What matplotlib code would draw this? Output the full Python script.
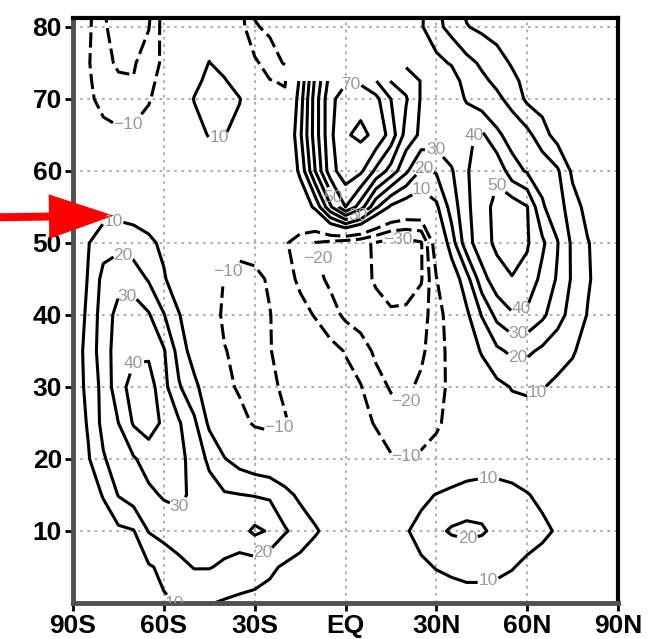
import numpy as np
import matplotlib
matplotlib.use("Agg")
import matplotlib.pyplot as plt
from matplotlib import font_manager

nan = np.nan

# grid: longitude columns and vertical levels
lons = [-90, -85, -80, -75, -70, -65, -60, -55, -50, -45, -40, -35, -30, -25, -20, -15, -10, -5, 0,
        5, 10, 15, 20, 25, 30, 35, 40, 45, 50, 55, 60, 65, 70, 75, 80, 85, 90]
heights = [0, 5, 10, 15, 20, 25, 30, 35, 40, 45, 50, 55, 60, 65, 70, 72.5, 75, 80, 85]

# field values, one row per height (west -> east)
z_00 = [2, 3, 4, 5, 6, 7, 9, 10.5, 11, 10.5, 9, 8, 7, 6, 5, 4, 3, 2, 1, 1, 1, 1, 2, 3, 4, 5, 6, 6, 6, 5, 4, 3, 2, 1, 1, 0, 0]
z_05 = [3, 4, 5, 6, 7.5, 9, 12, 17, 20.5, 20.5, 18.5, 16, 15, 12, 8.5, 6, 4, 3, 2, 2, 3, 4, 6, 8, 10.5, 12, 13, 13, 12, 10.5, 8, 6, 4, 3, 2, 1, 0]
z_10 = [3, 4.5, 6, 8, 9.5, 20.5, 24, 26, 27, 26, 25, 26, 32, 29, 21, 16, 11, 7, 4, 3, 4, 6, 9, 14, 18, 21, 22, 21, 18, 16, 14, 12, 9, 6, 4, 2, 1]
z_15 = [3, 6, 10.5, 20.5, 25, 28, 31, 32, 28, 24, 21, 20.3, 19.5, 18.5, 13, 8, 5, 3, 2, 1, 1, 2, 4, 7, 10.5, 13, 15, 16, 15, 13, 10.5, 8, 6, 4, 3, 2, 1]
z_20 = [4, 9, 19, 25, 29, 34, 36, 33, 26, 18, 10.5, 6, 3, 1, 0, -1, -2, -3, -4, -5, -7, -9, -9.5, -8, -5, -1, 2, 3, 4, 4, 4, 3, 2, 2, 1, 1, 0]
z_25 = [3, 11, 23, 30, 41, 45, 38, 31, 22, 8, 1, -6, -11.5, -13, -11, -6, -4, -5, -6, -8, -10.5, -15, -17, -16, -12, -6, 0, 3, 5, 6, 7, 6, 5, 3, 2, 1, 0]
z_30 = [3, 13, 23, 36, 44, 45, 33, 21, 13, 3, -7, -11.5, -13, -12.5, -8, -5, -4, -5, -7, -9.5, -16, -21, -22, -18, -13, -8, -2, 3, 7.5, 10.5, 11, 10.5, 8, 6, 4, 2, 1]
z_35 = [3, 14, 25, 35, 38, 38, 31, 16, 5, -3, -9.5, -12.5, -13.5, -10.5, -6, -4, -5, -7, -10.5, -15, -22, -26, -27, -22, -14, -7, 3, 11, 18, 22, 22, 18, 14, 11, 6, 3, 2]
z_40 = [3, 12, 25, 33, 35, 31, 20.5, 10.5, 3, -4, -12, -13, -12.5, -10.3, -6, -7.5, -10.5, -16, -22, -25, -27, -28.5, -28, -24, -15, -4, 8, 20.5, 33, 39, 38, 32, 24, 16, 9.5, 5, 3]
z_45 = [3, 10.5, 23, 27, 25.5, 19, 11, 4, -1, -3, -10.5, -13, -12, -9, -7, -11.5, -17, -22, -25, -27, -31, -35, -35, -31, -10.5, 3, 16, 36, 46, 49.5, 47, 37, 29, 18.5, 11, 6, 3]
z_50 = [2, 9.5, 16, 17, 15, 12, 8, 4, 1, -3, -6, -7, -6.5, -6, -9, -14, -20.5, -23, -26, -28, -31, -34, -34, -31, -3, 15, 36, 46, 52, 55, 51, 42, 30.5, 18, 10.5, 6, 3]
z_55 = [1, 3, 5, 5.5, 5, 4, 3, 2, 1, 0, -1, -2, -3, -4, -4, 2, 12, 38, 60, 45, 22, 8, 3, 2, 8, 24, 38, 46, 53, 56, 50.5, 31, 25, 14, 7, 4, 2]
z_60 = [0, -1, -2, -2, -1, 0, 1, 2, 3, 4, 4, 3, 2, 0, -1, 12, 40, 66, 76, 72, 58, 46, 32, 18.5, 21, 29, 39, 46, 48, 34, 29, 27, 21.5, 8, 4, 2, 1]
z_65 = [-3, -5, -7, -8, -7, -5, -2, 2, 7, 10.5, 10.3, 7, 0, -3, -4, 18, 45, 68, 79, 82, 78, 66, 46, 38, 36, 37, 38, 42, 32, 26, 23, 14, 6, 4, 2, 1, 1]
z_70 = [-4, -8, -13, -16, -17, -11, -4, 3, 10.3, 13, 13, 10.5, 3, -5, -8, 15, 45, 68, 74, 77, 73, 60, 51, 39, 37, 36, 29, 24, 22, 17, 8, 6, 5, 3, 2, 1, 1]
z_72 = [-4, -8.5, -15, -19, -19.5, -13, -6, 1, 8, 12, 11, 5, -4, -9.5, -11, 12, 42, 64, 69, 68, 60.5, 49.5, 46, 39.5, 37, 36, 25, 22, 18, 12.5, 7, 5, 4, 2.5, 1, 1, 0]
z_75 = [-5, -9, -18, -21, -21, -15, -8, 0, 5, 10.3, 6, 0, -8, -15, -21, nan, nan, nan, nan, nan, nan, nan, 38, 36, 33, 29, 23, 18.5, 14, 9, 6, 4, 3, 2, 1, 1, 0]
z_80 = [-4, -8, -18, -26, -26, -20.5, -6, 0, 3, 4, 3, -5, -19, -22, -25, nan, nan, nan, nan, nan, nan, nan, 36, 31, 23, 16.5, 10.5, 8, 6, 5, 4, 3, 2, 2, 1, 1, 0]
z_85 = [-2, -6, -20, -30, -30, -24, -6, 0, 2, 2, 1, -8, -24, -28, -30, nan, nan, nan, nan, nan, nan, nan, 36, 32, 21, 13.5, 6, 5, 4, 3, 3, 2, 2, 1, 1, 0, 0]

contour_levels = [-30, -20, -10, 10, 20, 30, 40, 50, 60, 70, 80]

# where the contour labels sit (lon, height)
label_at = [(-77, 53.5), (-74.3, 47.4), (-72, 42.1), (-72, 35.5), (-54.5, 13.3), (-27.4, 7.1),
            (-51, 0.8), (-42, 66), (-71.7, 65.7), (-37, 45.1), (-20.5, 22.2), (19.8, 19.6),
            (-8.9, 47.9), (20.5, 27.5), (17.5, 47.4), (1.7, 70.8), (-3.5, 56.5), (4, 54),
            (37.3, 66.7), (29.7, 63.6), (26, 60.6), (25, 57.3), (50.2, 59), (57.8, 41),
            (57.1, 37.6), (56.8, 34.2), (63.4, 29.2), (47.2, 16.8), (40.3, 8.75), (47.2, 2.9)]

xtick_pos = [-90, -60, -30, 0, 30, 60, 90]
xtick_txt = ["90S", "60S", "30S", "EQ", "30N", "60N", "90N"]
ytick_pos = [10, 20, 30, 40, 50, 60, 70, 80]

plt.rcParams["font.family"] = ["Liberation Sans", "DejaVu Sans"]

# narrow face for the axis numbers when it is around
installed = {f.name for f in font_manager.fontManager.ttflist}
if "Liberation Sans Narrow" in installed:
    tick_font = dict(family="Liberation Sans Narrow", size=22, weight="bold")
else:
    tick_font = dict(family="Liberation Sans", size=19, weight="bold")

field = np.ma.masked_invalid(np.array([z_00, z_05, z_10, z_15, z_20, z_25, z_30, z_35, z_40, z_45,
                                       z_50, z_55, z_60, z_65, z_70, z_72, z_75, z_80, z_85]))

fig = plt.figure(figsize=(6.51, 6.39), dpi=100)
ax = fig.add_axes([73 / 651, 36 / 639, 545 / 651, 585 / 639])

styles = [(0, (5, 1.8)) if lv < 0 else "solid" for lv in contour_levels]
cs = ax.contour(lons, heights, field, levels=contour_levels, colors="black",
                linewidths=2.2, linestyles=styles, corner_mask=False)
labels = ax.clabel(cs, fmt=lambda v: ("%d" % v).replace("-", "\u2212"), fontsize=12.5,
                   colors="#9a9a9a", inline=True, inline_spacing=1, manual=label_at)
for t in labels:
    t.set_rotation(0)

ax.set_xlim(-90, 90)
ax.set_ylim(0, 81.25)
ax.set_xticks(xtick_pos)
ax.set_xticklabels(xtick_txt)
ax.set_yticks(ytick_pos)
ax.grid(True, color="#a8a8a8", linestyle=(0, (1.5, 2.5)), linewidth=1.3)
ax.set_axisbelow(True)
ax.tick_params(direction="out", length=6, width=2, pad=2, colors="black")
for lab in ax.get_xticklabels() + ax.get_yticklabels():
    lab.set_fontfamily(tick_font["family"])
    lab.set_fontsize(tick_font["size"])
    lab.set_fontweight(tick_font["weight"])
for side in ["left", "bottom"]:
    ax.spines[side].set_linewidth(3.5)
    ax.spines[side].set_color("#505050")
for side in ["top", "right"]:
    ax.spines[side].set_linewidth(3)
    ax.spines[side].set_color("black")

# red pointer at the 10 contour label
ax.annotate("", xy=(-76.5, 53.8), xycoords="data", xytext=(0.0, 0.66),
            textcoords="figure fraction", annotation_clip=False,
            arrowprops=dict(arrowstyle="simple,head_length=1.46,head_width=1.0,tail_width=0.18",
                            mutation_scale=32, fc="red", ec="red", lw=0, shrinkA=0, shrinkB=0))

fig.savefig("out.png", dpi=100)
